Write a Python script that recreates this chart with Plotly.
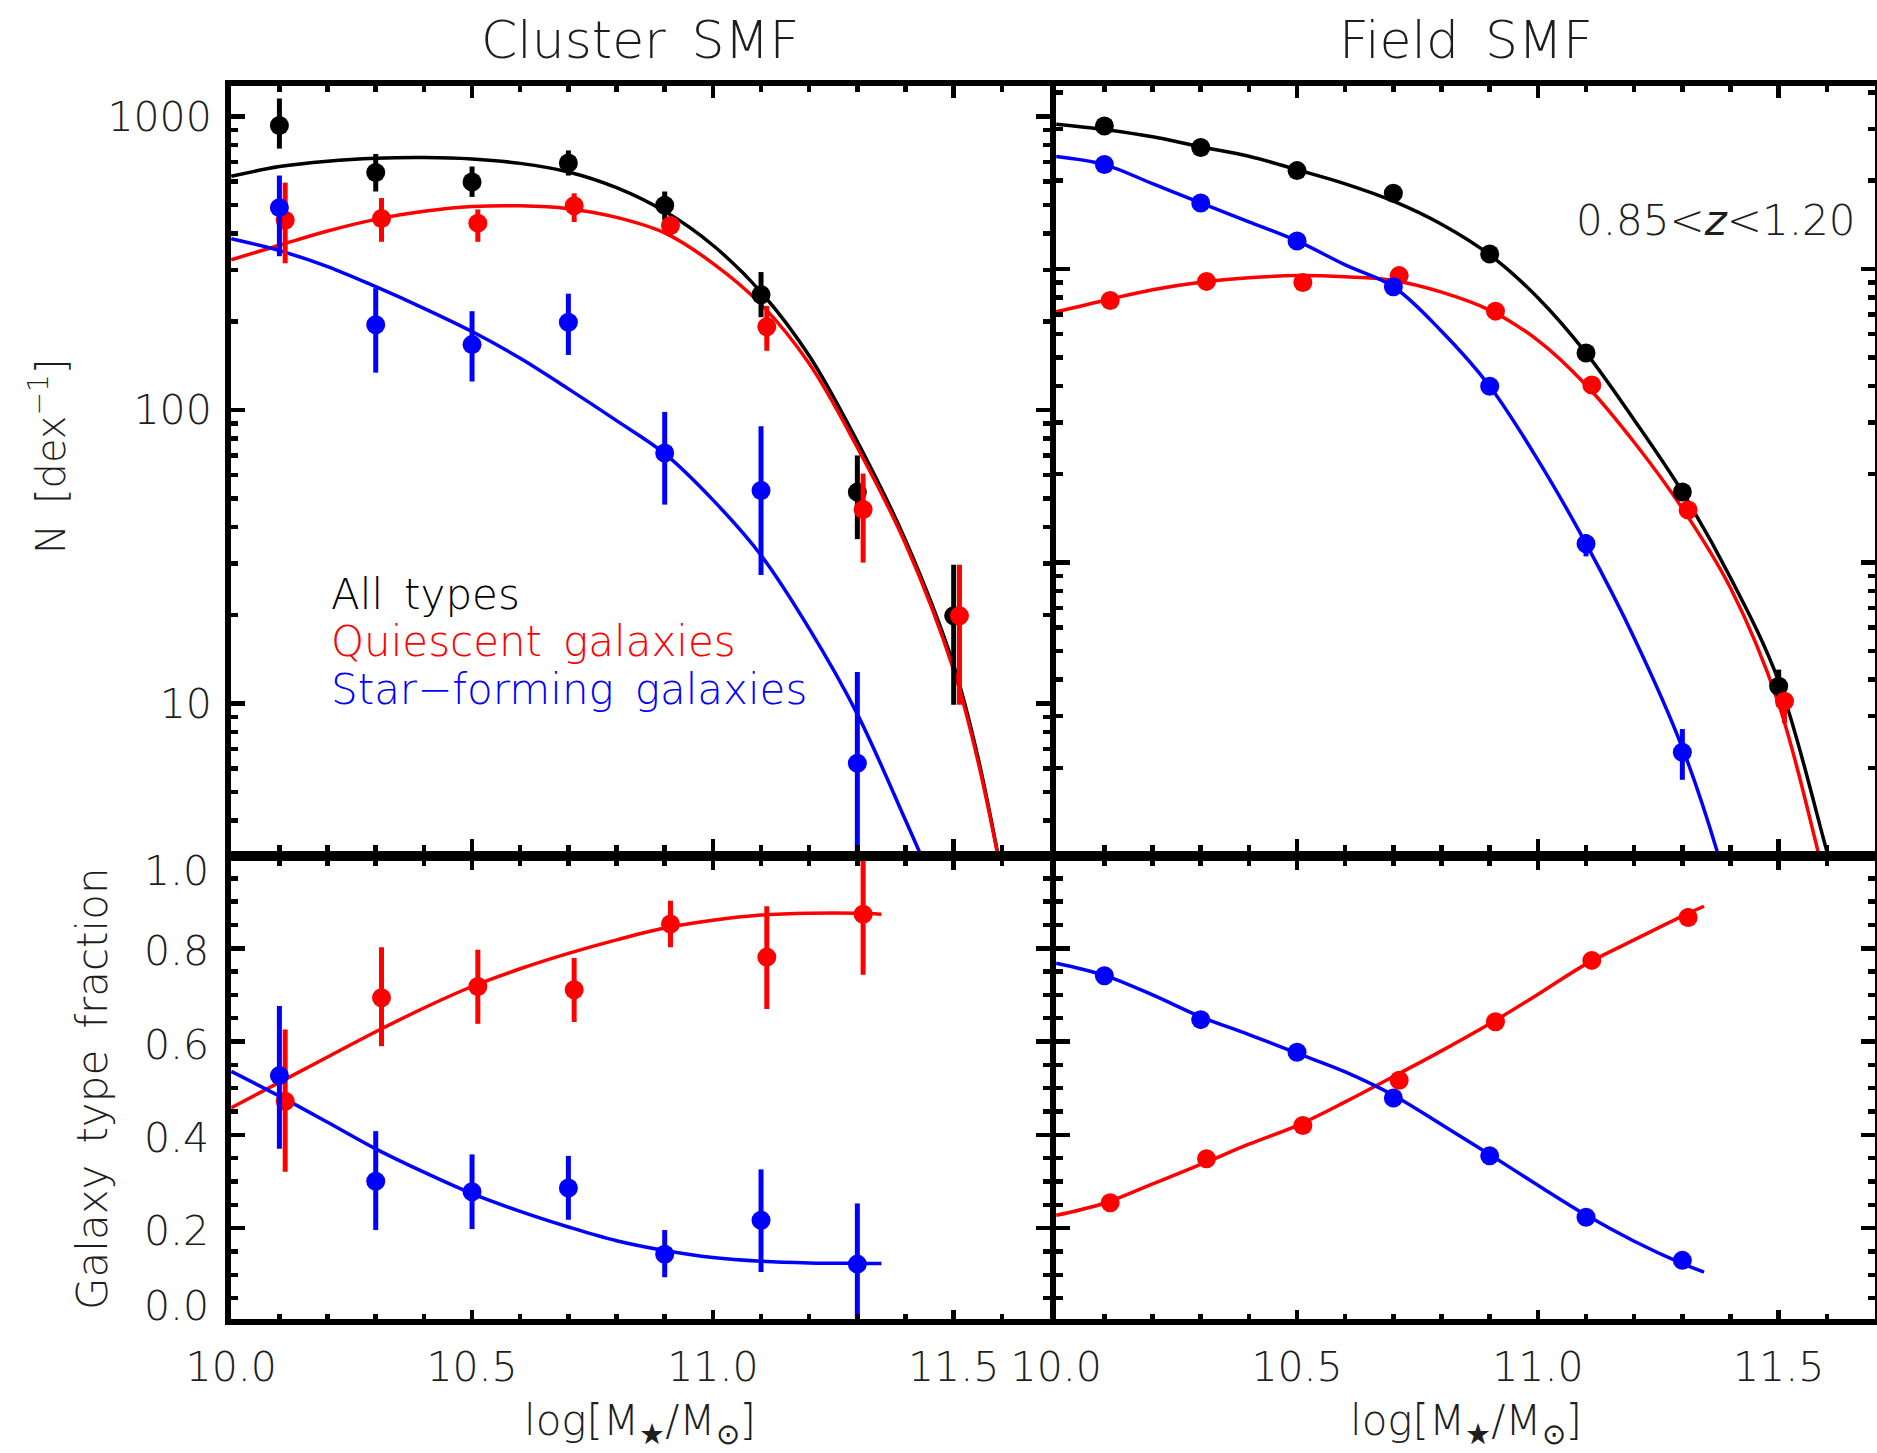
import plotly.graph_objects as go

# ------------------------------------------------------------------ data
MASS = [10.1, 10.3, 10.5, 10.7, 10.9, 11.1, 11.3, 11.5]
MASS7 = [10.1, 10.3, 10.5, 10.7, 10.9, 11.1, 11.3]

# Cluster SMF (N per dex)
cl_all = [932, 644, 598, 694, 498, 247, 52.5, 19.9]
cl_all_hi = [1151, 745, 675, 766, 555, 295, 70, 29.7]
cl_all_lo = [777, 555, 532, 629, 443, 207, 36.3, 9.9]
cl_q = [443, 449, 433, 496, 425, 192, 45.8, 19.9]
cl_q_hi = [595, 527, 482, 547, 456, 226, 60.7, 29.7]
cl_q_lo = [316, 374, 374, 437, 390, 159, 30.2, 9.9]
cl_sf = [489, 195, 167, 199, 71.4, 53.2, 6.26]
cl_sf_hi = [629, 260, 217, 249, 98.5, 88, 12.8]
cl_sf_lo = [334, 134, 125, 154, 47.6, 27.4, 0.5]

cl_all_fit_x = [10.0, 10.1, 10.2, 10.3, 10.4, 10.5, 10.6, 10.7, 10.8, 10.9, 11.0, 11.1, 11.2, 11.3, 11.4, 11.5, 11.55, 11.6]
cl_all_fit = [625, 675, 704, 720, 724, 716, 692, 647, 572, 475, 364, 252, 153, 78, 36, 13.5, 6.6, 2.6]
cl_q_fit_x = [10.0, 10.1, 10.2, 10.3, 10.4, 10.5, 10.6, 10.7, 10.8, 10.9, 11.0, 11.1, 11.2, 11.3, 11.4, 11.5, 11.55, 11.6]
cl_q_fit = [325, 364, 407, 446, 475, 493, 496, 485, 453, 401, 316, 229, 144, 74.5, 35, 13, 6.4, 2.6]
cl_sf_fit_x = [10.0, 10.1, 10.2, 10.3, 10.4, 10.5, 10.6, 10.7, 10.8, 10.9, 11.0, 11.1, 11.2, 11.3, 11.4, 11.45]
cl_sf_fit = [383, 349, 308, 263, 222, 185, 150, 118, 92, 71, 49.4, 32, 18, 9.2, 4.0, 2.6]

# Field SMF (own normalisation)
fd_all = [3072, 2597, 2165, 1812, 1125, 518, 174, 37.9]
fd_all_hi = [3170, 2680, 2230, 1870, 1165, 540, 186, 43.2]
fd_all_lo = [2975, 2515, 2100, 1755, 1085, 497, 162, 32.3]
fd_q = [782, 908, 900, 950, 719, 403, 151, 33.7]
fd_q_hi = [810, 940, 930, 985, 745, 418, 160, 36.0]
fd_q_lo = [755, 877, 870, 916, 694, 388, 142, 28.4]
fd_sf = [2270, 1680, 1247, 871, 399, 116, 22.6]
fd_sf_hi = [2350, 1740, 1290, 905, 415, 125, 27.1]
fd_sf_lo = [2190, 1620, 1205, 838, 383, 105, 18.2]

fd_all_fit_x = [10.0, 10.1, 10.2, 10.3, 10.4, 10.5, 10.6, 10.7, 10.8, 10.9, 11.0, 11.1, 11.2, 11.3, 11.4, 11.5, 11.6, 11.62]
fd_all_fit = [3116, 2989, 2822, 2609, 2424, 2180, 1952, 1704, 1421, 1118, 799, 518, 306, 174, 88.8, 39.4, 10.4, 8.0]
fd_q_fit_x = [10.0, 10.1, 10.2, 10.3, 10.4, 10.5, 10.6, 10.7, 10.8, 10.9, 11.0, 11.1, 11.2, 11.3, 11.4, 11.5, 11.585, 11.6]
fd_q_fit = [715, 782, 850, 901, 934, 950, 941, 915, 835, 725, 572, 403, 257, 153, 81.9, 33.0, 9.9, 8.0]
fd_sf_fit_x = [10.0, 10.1, 10.2, 10.3, 10.4, 10.5, 10.6, 10.7, 10.8, 10.9, 11.0, 11.1, 11.2, 11.3, 11.376, 11.4]
fd_sf_fit = [2419, 2270, 1954, 1680, 1449, 1247, 1033, 871, 614, 399, 224, 116, 55.4, 23.4, 9.9, 7.0]

# Galaxy type fractions
cl_fq = [0.472, 0.694, 0.718, 0.711, 0.852, 0.781, 0.873]
cl_fq_hi = [0.626, 0.802, 0.797, 0.779, 0.902, 0.890, 1.05]
cl_fq_lo = [0.321, 0.590, 0.638, 0.642, 0.802, 0.670, 0.743]
cl_fsf = [0.527, 0.3005, 0.278, 0.286, 0.144, 0.217, 0.123]
cl_fsf_hi = [0.676, 0.408, 0.358, 0.355, 0.196, 0.326, 0.253]
cl_fsf_lo = [0.370, 0.196, 0.198, 0.218, 0.095, 0.106, -0.02]

frac_fit_x = [10.0, 10.1, 10.2, 10.3, 10.4, 10.5, 10.6, 10.7, 10.8, 10.9, 11.0, 11.1, 11.2, 11.3, 11.35]
cl_fq_fit = [0.458, 0.5125, 0.567, 0.621, 0.672, 0.718, 0.756, 0.789, 0.818, 0.8435, 0.860, 0.871, 0.875, 0.875, 0.873]
cl_fsf_fit = [0.536, 0.483, 0.427, 0.370, 0.320, 0.274, 0.236, 0.2026, 0.173, 0.152, 0.137, 0.129, 0.1254, 0.1245, 0.1245]

fd_fsf = [0.741, 0.647, 0.577, 0.479, 0.355, 0.2236, 0.131]
fd_fsf_hi = [0.752, 0.658, 0.588, 0.490, 0.366, 0.234, 0.148]
fd_fsf_lo = [0.730, 0.636, 0.566, 0.468, 0.344, 0.213, 0.114]
fd_fq = [0.2545, 0.349, 0.420, 0.517, 0.6425, 0.774, 0.866]
fd_fq_hi = [0.265, 0.360, 0.431, 0.528, 0.653, 0.785, 0.885]
fd_fq_lo = [0.244, 0.338, 0.409, 0.506, 0.632, 0.763, 0.847]

fd_frac_fit_x = [10.0, 10.1, 10.2, 10.3, 10.4, 10.5, 10.6, 10.7, 10.8, 10.9, 11.0, 11.1, 11.2, 11.3, 11.345]
fd_fsf_fit = [0.768, 0.742, 0.700, 0.653, 0.615, 0.575, 0.535, 0.485, 0.422, 0.358, 0.292, 0.228, 0.172, 0.124, 0.106]
fd_fq_fit = [0.2277, 0.2535, 0.2948, 0.3366, 0.380, 0.420, 0.4707, 0.525, 0.580, 0.638, 0.701, 0.766, 0.818, 0.869, 0.890]

# Ticks / labels
X_MAJOR = [10.0, 10.5, 11.0, 11.5]
X_LABELS = ["10.0", "10.5", "11.0", "11.5"]
X_MINOR = [10.1, 10.2, 10.3, 10.4, 10.6, 10.7, 10.8, 10.9, 11.1, 11.2, 11.3, 11.4, 11.6]
N_MAJOR = [10, 100, 1000]
N_LABELS = ["10", "100", "1000"]
N_MINOR = [4, 5, 6, 7, 8, 9, 20, 30, 40, 50, 60, 70, 80, 90, 200, 300, 400, 500, 600, 700, 800, 900,
           2000, 3000, 4000]
F_MAJOR = [0.0, 0.2, 0.4, 0.6, 0.8, 1.0]
F_LABELS = ["0.0", "0.2", "0.4", "0.6", "0.8", "1.0"]
F_MINOR = [0.05, 0.1, 0.15, 0.25, 0.3, 0.35, 0.45, 0.5, 0.55, 0.65, 0.7, 0.75, 0.85, 0.9, 0.95]

LEGEND = ["All\u2002types", "Quiescent\u2002galaxies", "Star\u2212forming\u2002galaxies"]

# ------------------------------------------------------------------ style
W, H = 1877, 1453
BLACK, RED, BLUE = "#000000", "#ff0000", "#0000ff"
FONT = "DejaVu Sans"
FW = 200
TXT = "#1e1e1e"
LW = 6
TW = 4.5
MS = 19
EB = 5
CW = 3.5
DODGE = 0.012

# pixel geometry of the frames (figure pixels)
F_TOP_PX, F_ZERO_PX = 855.0, 1321.5   # where fraction 1.0 and 0.0 sit


def px_x(p):
    return p / W


def px_y(p):
    return 1 - p / H


XL = [px_x(231), px_x(1050)]
XR = [px_x(1056), px_x(1875)]
YT = [px_y(851), px_y(86)]
YB = [px_y(1318.5), px_y(861)]

Y_LEFT = [0.4975, 3.1037]
Y_RIGHT = [Y_LEFT[0] + 0.52, Y_LEFT[1] + 0.52]
F_RANGE = [0.0064, 0.987]
X_RANGE = [9.9995, 11.7]


def pts(x, y, hi, lo, color, xa, ya, dx=0.0):
    return go.Scatter(
        x=[v + dx for v in x], y=y, mode="markers",
        marker=dict(color=color, size=MS, line=dict(width=0)),
        error_y=dict(type="data", symmetric=False,
                     array=[h - v for h, v in zip(hi, y)],
                     arrayminus=[v - l for v, l in zip(y, lo)],
                     thickness=EB, width=0, color=color),
        xaxis=xa, yaxis=ya, hoverinfo="skip", showlegend=False)


def fit(x, y, color, xa, ya):
    return go.Scatter(x=x, y=y, mode="lines",
                      line=dict(color=color, width=CW, shape="spline", smoothing=1.0),
                      xaxis=xa, yaxis=ya, hoverinfo="skip", showlegend=False)


fig = go.Figure()
# top-left: cluster SMF
fig.add_trace(fit(cl_all_fit_x, cl_all_fit, BLACK, "x", "y"))
fig.add_trace(fit(cl_q_fit_x, cl_q_fit, RED, "x", "y"))
fig.add_trace(fit(cl_sf_fit_x, cl_sf_fit, BLUE, "x", "y"))
fig.add_trace(pts(MASS, cl_all, cl_all_hi, cl_all_lo, BLACK, "x", "y"))
fig.add_trace(pts(MASS, cl_q, cl_q_hi, cl_q_lo, RED, "x", "y", DODGE))
fig.add_trace(pts(MASS7, cl_sf, cl_sf_hi, cl_sf_lo, BLUE, "x", "y"))
# top-right: field SMF
fig.add_trace(fit(fd_all_fit_x, fd_all_fit, BLACK, "x2", "y2"))
fig.add_trace(fit(fd_q_fit_x, fd_q_fit, RED, "x2", "y2"))
fig.add_trace(fit(fd_sf_fit_x, fd_sf_fit, BLUE, "x2", "y2"))
fig.add_trace(pts(MASS, fd_all, fd_all_hi, fd_all_lo, BLACK, "x2", "y2"))
fig.add_trace(pts(MASS, fd_q, fd_q_hi, fd_q_lo, RED, "x2", "y2", DODGE))
fig.add_trace(pts(MASS7, fd_sf, fd_sf_hi, fd_sf_lo, BLUE, "x2", "y2"))
# bottom-left: cluster fractions
fig.add_trace(fit(frac_fit_x, cl_fq_fit, RED, "x3", "y3"))
fig.add_trace(fit(frac_fit_x, cl_fsf_fit, BLUE, "x3", "y3"))
fig.add_trace(pts(MASS7, cl_fq, cl_fq_hi, cl_fq_lo, RED, "x3", "y3", DODGE))
fig.add_trace(pts(MASS7, cl_fsf, cl_fsf_hi, cl_fsf_lo, BLUE, "x3", "y3"))
# bottom-right: field fractions
fig.add_trace(fit(fd_frac_fit_x, fd_fq_fit, RED, "x4", "y4"))
fig.add_trace(fit(fd_frac_fit_x, fd_fsf_fit, BLUE, "x4", "y4"))
fig.add_trace(pts(MASS7, fd_fq, fd_fq_hi, fd_fq_lo, RED, "x4", "y4", DODGE))
fig.add_trace(pts(MASS7, fd_fsf, fd_fsf_hi, fd_fsf_lo, BLUE, "x4", "y4"))

tickfont = dict(family=FONT, size=41, color=TXT, weight=FW)


def xaxis(domain, anchor, labels, major_len, minor_len):
    return dict(domain=domain, anchor=anchor, range=X_RANGE, showline=True, linewidth=LW,
                linecolor="black", mirror="ticks", ticks="inside", ticklen=major_len,
                tickwidth=TW, tickcolor="black", tickmode="array", tickvals=X_MAJOR,
                ticktext=X_LABELS, showticklabels=labels, showgrid=False, zeroline=False,
                automargin=False, tickfont=tickfont, ticklabelstandoff=7, layer="above traces",
                minor=dict(ticks="inside", ticklen=minor_len, tickwidth=TW, tickcolor="black",
                           tickmode="array", tickvals=X_MINOR, showgrid=False))


def yaxis(domain, anchor, rng, log, labels, major, text, minor):
    d = dict(domain=domain, anchor=anchor, range=rng, showline=True, linewidth=LW,
             linecolor="black", mirror="ticks", ticks="inside", ticklen=14,
             tickwidth=TW, tickcolor="black", tickmode="array", tickvals=major,
             ticktext=text, showticklabels=labels, showgrid=False, zeroline=False,
             automargin=False, tickfont=tickfont, ticklabelstandoff=5, layer="above traces",
             minor=dict(ticks="inside", ticklen=7, tickwidth=TW, tickcolor="black",
                        tickmode="array", tickvals=minor, showgrid=False))
    if log:
        d["type"] = "log"
    return d


fig.update_layout(
    template="none",
    width=W, height=H, autosize=False,
    margin=dict(l=0, r=0, t=0, b=0, pad=0, autoexpand=False),
    paper_bgcolor="white", plot_bgcolor="white", showlegend=False, hovermode=False,
    font=dict(family=FONT, color=TXT, weight=FW),
    xaxis=xaxis(XL, "y", False, 12, 6),
    yaxis=yaxis(YT, "x", Y_LEFT, True, True, N_MAJOR, N_LABELS, N_MINOR),
    xaxis2=xaxis(XR, "y2", False, 12, 6),
    yaxis2=yaxis(YT, "x2", Y_RIGHT, True, False, N_MAJOR, N_LABELS, N_MINOR),
    xaxis3=xaxis(XL, "y3", True, 9, 5),
    yaxis3=yaxis(YB, "x3", F_RANGE, False, False, F_MAJOR, F_LABELS, F_MINOR),
    xaxis4=xaxis(XR, "y4", True, 9, 5),
    yaxis4=yaxis(YB, "x4", F_RANGE, False, False, F_MAJOR, F_LABELS, F_MINOR),
)

ann = []


def text(t, x, y, size, color=TXT, xanchor="center", angle=0):
    ann.append(dict(text=t, x=x, y=y, xref="paper", yref="paper", xanchor=xanchor, yanchor="middle",
                    showarrow=False, textangle=angle,
                    font=dict(family=FONT, size=size, color=color, weight=FW)))


# fraction-axis tick labels (end labels nudged inside the frame, as in the original)
for v, lab in zip(F_MAJOR, F_LABELS):
    shift = 16 if v == 1.0 else (-16 if v == 0.0 else 3)
    ypx = F_TOP_PX + (1.0 - v) * (F_ZERO_PX - F_TOP_PX) + shift
    text(lab, px_x(211), px_y(ypx), 41, xanchor="right")

text("Cluster\u2002SMF", px_x(640), px_y(40), 52)
text("Field\u2002SMF", px_x(1466), px_y(40), 52)
text("log[M<sub>\u2605</sub>/M<sub>\u2299</sub>]", px_x(640), px_y(1423), 42)
text("log[M<sub>\u2605</sub>/M<sub>\u2299</sub>]", px_x(1466), px_y(1423), 42)
text("N\u2002[dex<sup>\u22121</sup>]", px_x(48), px_y(457), 40, angle=-90)
text("Galaxy\u2002type\u2002fraction", px_x(92), px_y(1089), 42, angle=-90)
for lab, col, yc in zip(LEGEND, [BLACK, RED, BLUE], [595, 642, 689]):
    text(lab, px_x(329), px_y(yc), 42, color=col, xanchor="left")
text("0.85<<i>z</i><1.20", px_x(1857), px_y(221), 42, xanchor="right")

fig.update_layout(annotations=ann)
fig.write_html("out.html", config={"displayModeBar": False, "staticPlot": True},
               post_script="document.body.style.margin='0px';")
